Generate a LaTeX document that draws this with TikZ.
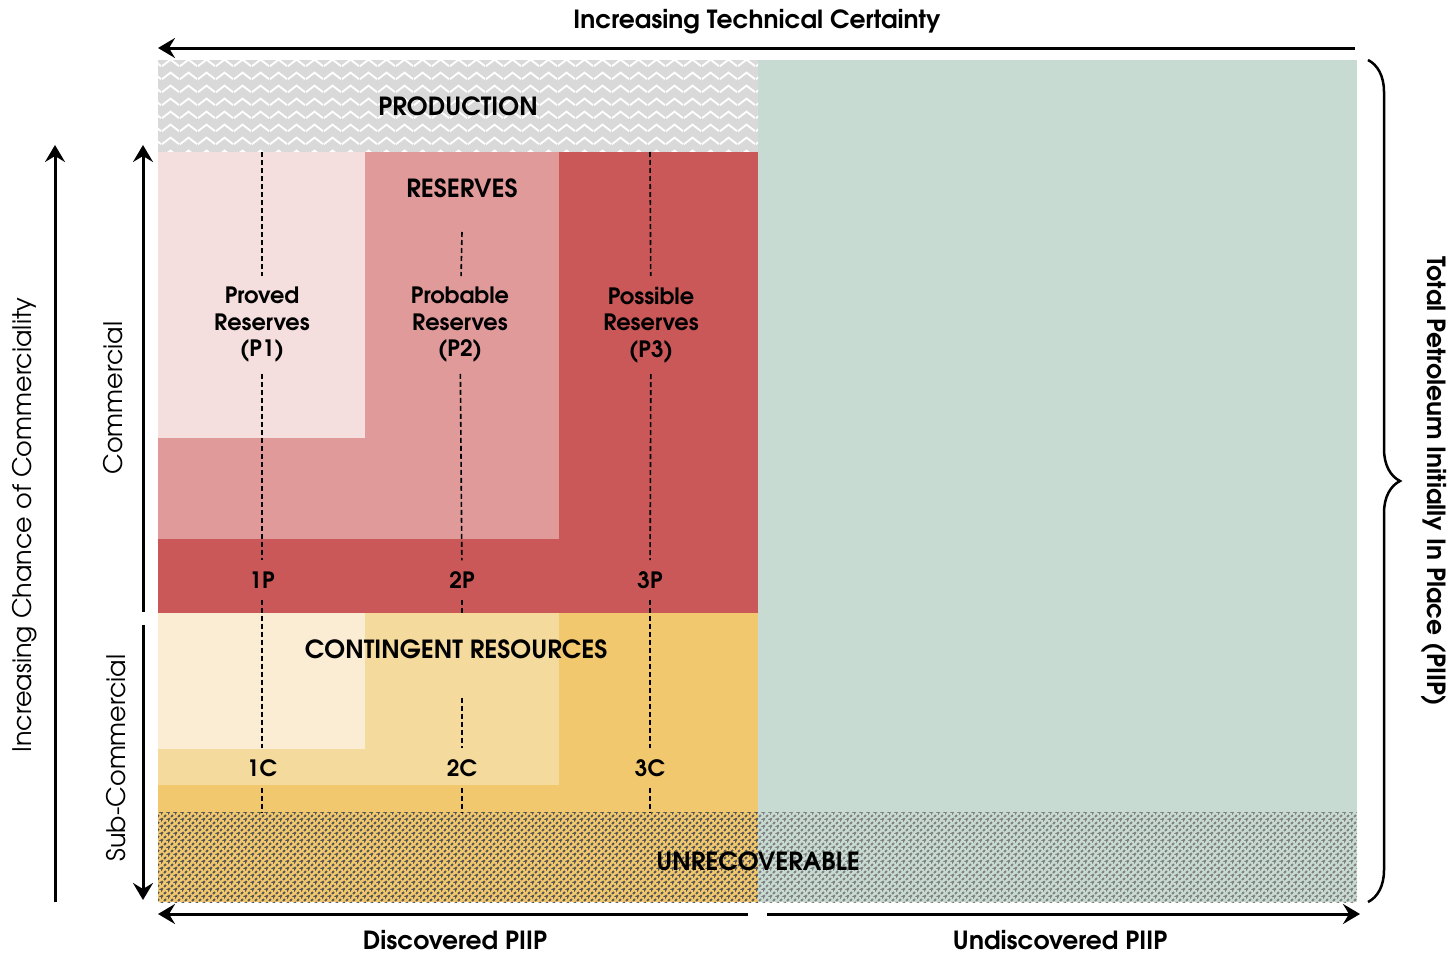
\documentclass[tikz,border=0pt]{standalone}
\usepackage{fontspec}
\setmainfont{TeX Gyre Adventor}
\usetikzlibrary{arrows.meta, positioning, patterns.meta, decorations.pathreplacing}
\usepackage{xcolor}
\definecolor{prodgray}{RGB}{217,217,217}
\definecolor{provedc}{RGB}{244,222,222}
\definecolor{probablec}{RGB}{224,154,154}
\definecolor{possiblec}{RGB}{203,88,88}
\definecolor{conta}{RGB}{251,237,211}
\definecolor{contb}{RGB}{245,218,158}
\definecolor{contc}{RGB}{242,200,110}
\definecolor{undiscc}{RGB}{199,219,211}
\definecolor{hatchc}{RGB}{85,85,85}

\tikzdeclarepattern{
  name=zigzag,
  type=uncolored,
  bounding box={(0pt,0pt) and (18pt,13pt)},
  tile size={(18pt,13pt)},
  code={
    \draw[line width=2pt] (0pt,3pt) -- (9pt,10pt) -- (18pt,3pt);
  }
}
\tikzdeclarepattern{
  name=unrechatch,
  type=uncolored,
  bounding box={(0pt,0pt) and (7pt,7pt)},
  tile size={(7pt,7pt)},
  code={
    \draw[line width=2.2pt, dash pattern=on 3pt off 1.95pt] (0pt,0pt) -- (7pt,7pt);
    \draw[line width=2.2pt] (-1pt,6pt) -- (1pt,8pt);
    \draw[line width=2.2pt] (6pt,-1pt) -- (8pt,1pt);
  }
}

\begin{document}
\begin{tikzpicture}[x=1pt, y=-1pt, >={Stealth[length=17pt,width=20pt,inset=6pt]}]
    \tikzstyle{axis}=[->, line width=3pt]
    \tikzstyle{guide}=[line width=1.6pt, dash pattern=on 5pt off 3pt]
    \tikzstyle{big}=[font=\bfseries\fontsize{25}{30}\selectfont, inner sep=0pt]
    \tikzstyle{side}=[font=\fontsize{25.5}{30}\selectfont, inner sep=0pt]
    \tikzstyle{cls}=[font=\bfseries\fontsize{22.5}{26.5}\selectfont, align=center, inner xsep=0pt, inner ysep=11pt]
    \useasboundingbox (0,0) rectangle (1451,953);

    % Draw the coloured blocks
    \fill[undiscc] (758,60) rectangle (1357,812);
    \fill[prodgray] (158,60) rectangle (758,152);
    \fill[pattern=zigzag, pattern color=white] (158,60) rectangle (758,152);
    \fill[possiblec] (158,152) rectangle (758,613);
    \fill[probablec] (158,152) rectangle (559,539);
    \fill[provedc] (158,152) rectangle (365,438);
    \fill[contc] (158,613) rectangle (758,812);
    \fill[contb] (158,613) rectangle (559,785);
    \fill[conta] (158,613) rectangle (365,749);
    \fill[contc] (158,812) rectangle (758,902);
    \fill[undiscc] (758,812) rectangle (1357,902);
    \fill[pattern=unrechatch, pattern color=hatchc] (158,812) rectangle (758,902);
    \fill[pattern=unrechatch, pattern color=hatchc!75] (758,812) rectangle (1357,902);

    % Labels of the blocks
    \node[big] (prod) at (458,106) {PRODUCTION};
    \node[big] (res) at (462,188) {RESERVES};
    \node[big] (cont) at (456,649) {CONTINGENT RESOURCES};
    \node[big] (unrec) at (758,861) {UNRECOVERABLE};

    \node[cls] (P1) at (262,325) {Proved\\Reserves\\(P1)};
    \node[cls] (P2) at (460,325) {Probable\\Reserves\\(P2)};
    \node[cls] (P3) at (651,325) {Possible\\Reserves\\(P3)};
    \foreach \n/\x in {1/262, 2/462, 3/650} {
        \node[cls] (\n P) at (\x,580) {\n P};
        \node[cls] (\n C) at (\x,768) {\n C};
        \coordinate (top-\n) at (\x,152);
        \coordinate (bot-\n) at (\x,812);
    }
    \coordinate (top-2) at (462,232);
    \coordinate (mid-2a) at (462,613);
    \coordinate (mid-2b) at (462,698);

    % Dashed guides down each column
    \draw[guide] (top-1) -- (P1);
    \draw[guide] (P1) -- (1P);
    \draw[guide] (1P) -- (1C);
    \draw[guide] (1C) -- (bot-1);
    \draw[guide] (top-2) -- (P2);
    \draw[guide] (P2) -- (2P);
    \draw[guide] (2P) -- (mid-2a);
    \draw[guide] (mid-2b) -- (2C);
    \draw[guide] (2C) -- (bot-2);
    \draw[guide] (top-3) -- (P3);
    \draw[guide] (P3) -- (3P);
    \draw[guide] (3P) -- (3C);
    \draw[guide] (3C) -- (bot-3);

    % Axis arrows
    \coordinate (tc-r) at (1355,48);
    \coordinate (tc-l) at (158,48);
    \draw[axis] (tc-r) -- (tc-l);
    \node[big] (tc) at (757,22) {Increasing Technical Certainty};

    \coordinate (cc-b) at (55,902);
    \coordinate (cc-t) at (55,145);
    \draw[axis] (cc-b) -- (cc-t);
    \node[side, rotate=90] (cc) at (25,525) {Increasing Chance of Commerciality};

    \coordinate (com-b) at (143,612);
    \coordinate (com-t) at (143,145);
    \draw[axis] (com-b) -- (com-t);
    \node[side, rotate=90] (com) at (113,398) {Commercial};

    \coordinate (sub-t) at (143,625);
    \coordinate (sub-b) at (143,900);
    \draw[axis] (sub-t) -- (sub-b);
    \node[side, rotate=90] (sub) at (116,758) {Sub-Commercial};

    \coordinate (dis-r) at (748,914);
    \coordinate (dis-l) at (158,914);
    \draw[axis] (dis-r) -- (dis-l);
    \node[big] (dis) at (455,940) {Discovered PIIP};

    \coordinate (und-l) at (767,914);
    \coordinate (und-r) at (1360,914);
    \draw[axis] (und-l) -- (und-r);
    \node[big] (und) at (1060,940) {Undiscovered PIIP};

    % Brace for the total
    \coordinate (br-t) at (1368,60);
    \coordinate (br-b) at (1368,902);
    \draw[decorate, decoration={brace, amplitude=32pt}, line width=2.5pt] (br-t) -- (br-b);
    \node[big, rotate=-90] (piip) at (1434,481) {Total Petroleum Initially In Place (PIIP)};
\end{tikzpicture}
\end{document}
